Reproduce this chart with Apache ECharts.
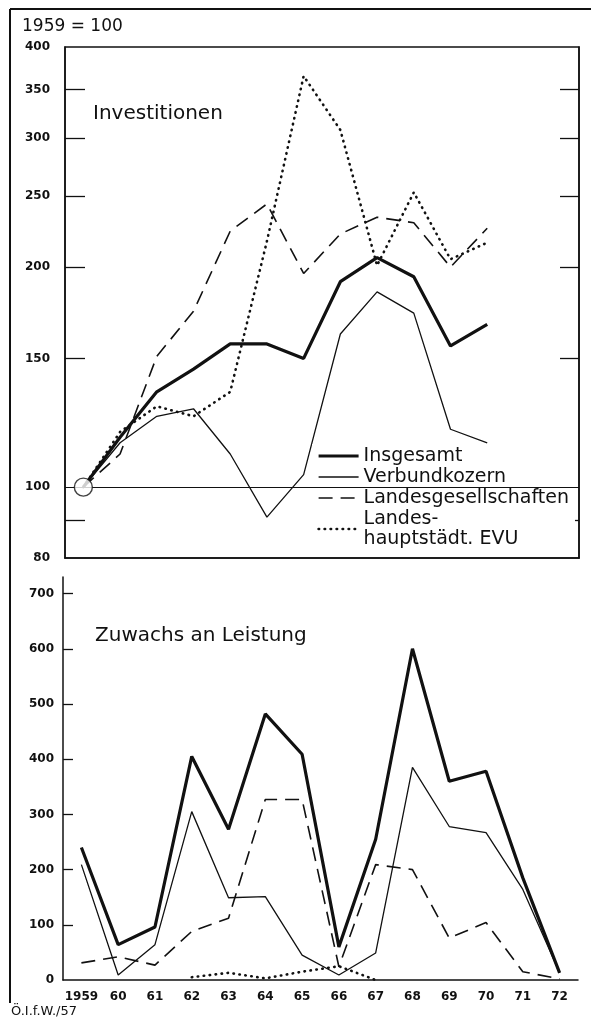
<!DOCTYPE html>
<html>
<head>
<meta charset="utf-8">
<script src="https://cdn.jsdelivr.net/npm/echarts@6/dist/echarts.min.js"></script>
<style>
  html, body { margin: 0; padding: 0; background: #fff; }
  #chart { width: 591px; height: 1022px; }
</style>
</head>
<body>
<div id="chart"></div>
<script>
// ---- data ----
const years = ['1959','60','61','62','63','64','65','66','67','68','69','70','71','72'];
const seriesNames = ['Insgesamt', 'Verbundkozern', 'Landesgesellschaften', 'Landes-\nhauptstädt. EVU'];

// Investitionen (1959 = 100, log scale)
const invTotal     = [100, 117, 135, 145, 157, 157, 150, 191, 206, 194, 156, 167, null, null];
const invVerbund   = [100, 115, 125, 128, 111,  91, 104, 162, 185, 173, 120, 115, null, null];
const invLandesges = [100, 111, 151, 174, 224, 244, 196, 222, 234, 230, 200, 226, null, null];
const invHauptst   = [100, 119, 129, 125, 135, 217, 365, 308, 201, 253, 205, 216, null, null];
const baseMarker   = [['1959', 100]];

// Zuwachs an Leistung
const powTotal     = [240,  64,  96, 405, 273, 482, 409,  60, 255, 600, 360, 378, 185, 13];
const powVerbund   = [209,   9,  64, 305, 149, 151,  45,   9,  49, 385, 278, 267, 164, 13];
const powLandesges = [ 31,  42,  27,  88, 112, 327, 327,  24, 209, 200,  76, 104,  15,  2];
const powHauptst   = [null, null, null, 5, 13,   3,  15,  25,   0, null, null, null, null, null];

// tick labels
const upperLabels = [80, 100, 150, 200, 250, 300, 350, 400];
const upperTicks  = [90, 150, 200, 250, 300, 350];
const lowerLabels = [0, 100, 200, 300, 400, 500, 600, 700];
const lowerTicks  = [100, 200, 300, 400, 500, 600, 700];

// ---- chart ----
const FONT = 'DejaVu Sans';
const INK = '#111';
const chart = echarts.init(document.getElementById('chart'), null, { renderer: 'canvas' });

const thick = { color: INK, width: 3.2, type: 'solid' };
const thin = { color: INK, width: 1.3, type: 'solid' };
const dashed = { color: INK, width: 1.6, type: [14, 8] };
const dotted = { color: INK, width: 2.6, type: [0.5, 5.5], cap: 'round' };
const styles = [thick, thin, dashed, dotted];

function lineSeries(name, data, style, xi, yi, extra) {
  return Object.assign({
    name: name, type: 'line', data: data, xAxisIndex: xi, yAxisIndex: yi,
    symbol: 'none', showSymbol: false, connectNulls: false, silent: true,
    lineStyle: style, itemStyle: { color: INK }, z: 3
  }, extra || {});
}

const option = {
  animation: false,
  backgroundColor: '#fff',
  textStyle: { fontFamily: FONT, color: INK },
  grid: [
    { left: 65, right: 12, top: 47, height: 511, show: true, borderColor: INK, borderWidth: 1.5, backgroundColor: 'transparent' },
    { left: 63, right: 13, top: 577, height: 403 }
  ],
  legend: {
    data: seriesNames.map((n, i) => ({ name: n, lineStyle: { width: styles[i].width, type: styles[i].type, color: INK } })),
    orient: 'vertical',
    left: 312, top: 444,
    itemWidth: 40, itemHeight: 12, itemGap: 1,
    padding: [2, 6, 2, 5],
    backgroundColor: '#fff',
    selectedMode: false,
    itemStyle: { opacity: 0, color: 'transparent', borderColor: 'transparent', borderWidth: 0 },
    textStyle: { fontFamily: FONT, fontSize: 19, color: INK, lineHeight: 20 }
  },
  xAxis: [
    {
      gridIndex: 0, type: 'category', data: years, boundaryGap: true,
      axisLine: { lineStyle: { color: INK, width: 1.5 } },
      axisTick: { inside: true, length: 9, lineStyle: { color: INK, width: 1.3 } },
      axisLabel: { show: false }, splitLine: { show: false }
    },
    {
      gridIndex: 1, type: 'category', data: years, boundaryGap: true,
      axisLine: { lineStyle: { color: INK, width: 1.5 } },
      axisTick: { inside: true, length: 10, lineStyle: { color: INK, width: 1.3 } },
      axisLabel: { fontFamily: FONT, fontSize: 12, fontWeight: 'bold', color: INK, margin: 11, interval: 0 },
      splitLine: { show: false }
    }
  ],
  yAxis: [
    {
      gridIndex: 0, type: 'log', logBase: 10, min: 80, max: 400,
      axisLine: { show: true, lineStyle: { color: INK, width: 1.5 } },
      axisTick: { show: true, inside: true, length: 20, customValues: upperTicks, lineStyle: { color: INK, width: 1.3 } },
      axisLabel: { customValues: upperLabels, fontFamily: FONT, fontSize: 12, fontWeight: 'bold', color: INK, margin: 15 },
      splitLine: { show: false }, minorTick: { show: false }
    },
    {
      gridIndex: 0, type: 'log', logBase: 10, min: 80, max: 400, position: 'right',
      axisLine: { show: true, lineStyle: { color: INK, width: 1.5 } },
      axisTick: { show: true, inside: true, length: 19, customValues: upperTicks, lineStyle: { color: INK, width: 1.3 } },
      axisLabel: { show: false },
      splitLine: { show: false }
    },
    {
      gridIndex: 1, type: 'value', min: 0, max: 730,
      axisLine: { show: true, lineStyle: { color: INK, width: 1.5 } },
      axisTick: { show: true, inside: true, length: 10, customValues: lowerTicks, lineStyle: { color: INK, width: 1.3 } },
      axisLabel: { customValues: lowerLabels, fontFamily: FONT, fontSize: 12, fontWeight: 'bold', color: INK, margin: 9 },
      splitLine: { show: false }
    }
  ],
  series: [
    lineSeries(seriesNames[0], invTotal, thick, 0, 0),
    lineSeries(seriesNames[1], invVerbund, thin, 0, 0, {
      markLine: {
        silent: true, symbol: 'none', label: { show: false },
        lineStyle: { color: INK, width: 1.1, type: 'solid' },
        data: [{ yAxis: 100 }]
      }
    }),
    lineSeries(seriesNames[2], invLandesges, dashed, 0, 0),
    lineSeries(seriesNames[3], invHauptst, dotted, 0, 0),
    {
      name: 'base', type: 'scatter', data: baseMarker, xAxisIndex: 0, yAxisIndex: 0,
      symbol: 'circle', symbolSize: 18, silent: true, z: 10,
      itemStyle: { color: '#fff', borderColor: INK, borderWidth: 1.4 }
    },
    lineSeries(seriesNames[0], powTotal, thick, 1, 2),
    lineSeries(seriesNames[1], powVerbund, thin, 1, 2),
    lineSeries(seriesNames[2], powLandesges, dashed, 1, 2),
    lineSeries(seriesNames[3], powHauptst, dotted, 1, 2)
  ],
  graphic: [
    { type: 'line', shape: { x1: 10, y1: 9, x2: 591, y2: 9 }, style: { stroke: INK, lineWidth: 2 }, silent: true },
    { type: 'line', shape: { x1: 10, y1: 9, x2: 10, y2: 1003 }, style: { stroke: INK, lineWidth: 2 }, silent: true },
    { type: 'text', left: 22, top: 18, style: { text: '1959 = 100', font: '17px "DejaVu Sans"', fill: INK }, silent: true },
    { type: 'text', left: 93, top: 104, style: { text: 'Investitionen', font: '20px "DejaVu Sans"', fill: INK }, silent: true },
    { type: 'text', left: 95, top: 626, style: { text: 'Zuwachs an Leistung', font: '20px "DejaVu Sans"', fill: INK }, silent: true },
    { type: 'text', left: 11, top: 1005, style: { text: 'Ö.I.f.W./57', font: '13px "DejaVu Sans"', fill: INK }, silent: true }
  ]
};

chart.setOption(option);
</script>
</body>
</html>
